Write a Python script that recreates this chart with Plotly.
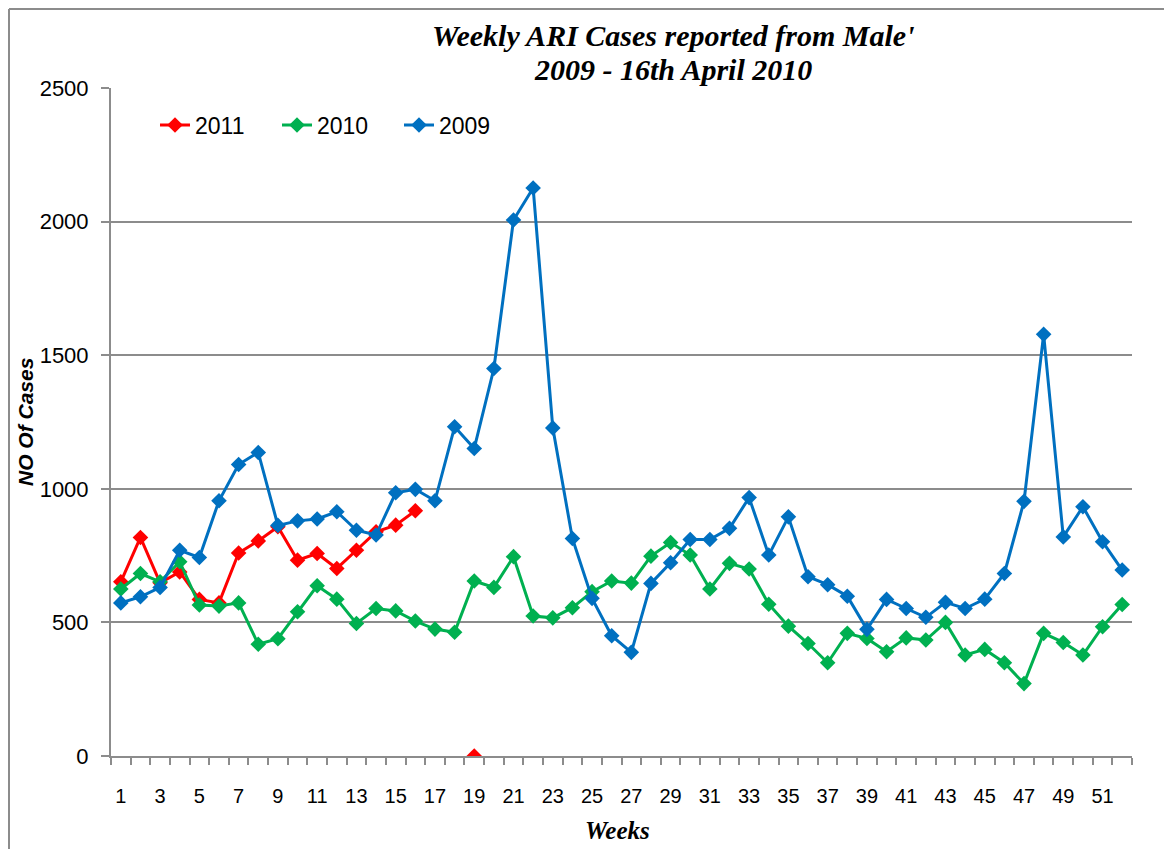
import plotly.graph_objects as go

weeks = list(range(1, 53))

cases_2009 = [573, 596, 631, 770, 743, 955, 1091, 1136, 863, 880, 887, 914, 845, 827, 985, 998,
              955, 1232, 1151, 1450, 2006, 2126, 1228, 814, 590, 450, 388, 646, 723, 810, 810, 852,
              967, 752, 895, 671, 641, 598, 474, 586, 552, 519, 575, 552, 587, 683, 953, 1578,
              820, 933, 802, 696]

cases_2010 = [625, 683, 652, 727, 565, 561, 573, 418, 439, 540, 637, 587, 496, 552, 543, 505,
              475, 463, 655, 631, 746, 524, 517, 555, 615, 655, 647, 748, 799, 752, 625, 721,
              700, 568, 486, 421, 349, 459, 440, 390, 442, 434, 500, 378, 399, 349, 271, 459,
              425, 378, 484, 567]

cases_2011 = [652, 818, 648, 689, 586, 573, 760, 805, 858, 733, 758, 702, 770, 839, 864, 918,
              None, None, 0] + [None] * 33

tick_labels = [str(w) for w in range(1, 52, 2)]

RED = "#FF0000"
GREEN = "#00B050"
BLUE = "#0070C0"
GRID = "#8C8C8C"

fig = go.Figure()
for name, vals, col in [("2011", cases_2011, RED), ("2010", cases_2010, GREEN), ("2009", cases_2009, BLUE)]:
    fig.add_trace(go.Scatter(
        x=weeks, y=vals, name=name, mode="lines+markers",
        line=dict(color=col, width=3),
        marker=dict(symbol="diamond", size=12, color=col),
        connectgaps=False,
    ))

# page offset of the figure (body margin)
OFF = 8
W, H = 1172, 849
L, R, T, B = 111 - OFF, W - (1132 - OFF), 88 - OFF, H - (756 - OFF)
pw, ph = W - L - R, H - T - B

def px_x(sx):
    return (sx - OFF - L) / pw

def px_y(sy):
    return (H - B - (sy - OFF)) / ph

fig.update_layout(
    width=W, height=H,
    margin=dict(l=L, r=R, t=T, b=B, autoexpand=False),
    paper_bgcolor="white", plot_bgcolor="white",
    showlegend=True,
    legend=dict(
        orientation="h", x=px_x(155), y=px_y(125), xanchor="left", yanchor="middle",
        font=dict(family="Liberation Sans, Arial, sans-serif", size=23, color="black"),
        bgcolor="rgba(0,0,0,0)", entrywidth=77, entrywidthmode="pixels",
    ),
    xaxis=dict(
        range=[0.5, 52.5], tickmode="array", tickvals=list(range(1, 52, 2)), ticktext=tick_labels,
        ticks="", showgrid=False, zeroline=False,
        showline=True, linecolor=GRID, linewidth=2,
        tickfont=dict(family="Liberation Sans, Arial, sans-serif", size=20, color="black"),
        ticklabelstandoff=21,
        minor=dict(tickmode="array", tickvals=[w - 0.5 for w in range(1, 54)], ticks="outside",
                   ticklen=7, tickcolor=GRID, tickwidth=1.5, showgrid=False),
        fixedrange=True,
    ),
    yaxis=dict(
        range=[0, 2500], tickmode="array", tickvals=[0, 500, 1000, 1500, 2000, 2500],
        showgrid=True, gridcolor=GRID, gridwidth=2, zeroline=False,
        showline=True, linecolor=GRID, linewidth=2,
        ticks="outside", ticklen=8, tickcolor=GRID, tickwidth=2,
        tickfont=dict(family="Liberation Sans, Arial, sans-serif", size=22, color="black"),
        ticklabelstandoff=8,
        fixedrange=True,
    ),
    annotations=[
        dict(text="<b><i>Weekly ARI Cases reported from Male'</i></b>",
             xref="paper", yref="paper", x=px_x(673), y=px_y(36), xanchor="center", yanchor="middle",
             showarrow=False,
             font=dict(family="Liberation Serif, Times New Roman, serif", size=30, color="black")),
        dict(text="<b><i>2009 - 16th April 2010</i></b>",
             xref="paper", yref="paper", x=px_x(673), y=px_y(69), xanchor="center", yanchor="middle",
             showarrow=False,
             font=dict(family="Liberation Serif, Times New Roman, serif", size=30, color="black")),
        dict(text="<b><i>NO Of Cases</i></b>", xref="paper", yref="paper",
             x=px_x(25), y=px_y(422), xanchor="center", yanchor="middle", textangle=-90,
             showarrow=False,
             font=dict(family="Liberation Sans, Arial, sans-serif", size=21, color="black")),
        dict(text="<b><i>Weeks</i></b>", xref="paper", yref="paper",
             x=px_x(617), y=px_y(830), xanchor="center", yanchor="middle",
             showarrow=False,
             font=dict(family="Liberation Serif, Times New Roman, serif", size=25, color="black")),
    ],
    shapes=[
        dict(type="line", xref="paper", yref="paper", x0=px_x(OFF + 1), x1=px_x(OFF + W), y0=px_y(OFF + 1), y1=px_y(OFF + 1),
             line=dict(color=GRID, width=2)),
        dict(type="line", xref="paper", yref="paper", x0=px_x(OFF + 1), x1=px_x(OFF + 1), y0=px_y(OFF + 1), y1=px_y(OFF + H),
             line=dict(color=GRID, width=2)),
    ],
)

fig.write_html("out.html")
